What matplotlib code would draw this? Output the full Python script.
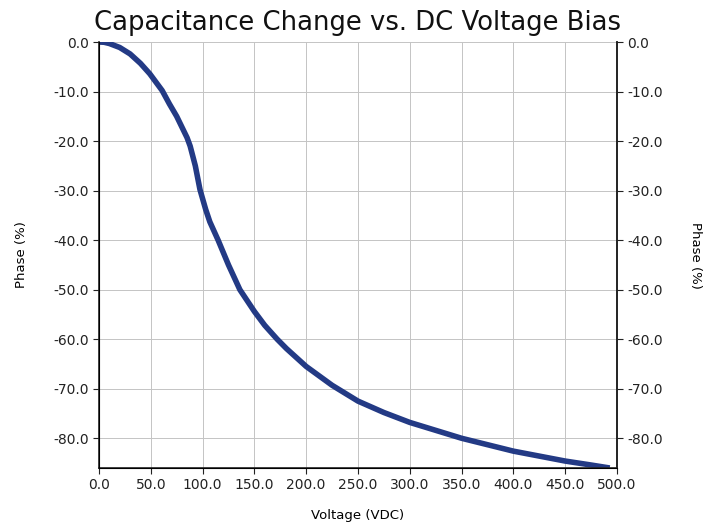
import matplotlib.pyplot as plt
import numpy as np

# capacitance change (%) against applied DC bias
voltage = [0, 5, 10, 20, 30, 40, 49, 61, 68, 75, 85, 88, 93, 97.5, 103,
           107, 115, 125, 136, 150, 160, 172, 181, 200, 225, 250, 275,
           300, 325, 350, 375, 400, 425, 450, 475, 493]
change = [0, -0.05, -0.3, -1.1, -2.4, -4.3, -6.4, -9.8, -12.5, -15.0, -19.3,
          -21.0, -25.0, -29.8, -33.8, -36.3, -40.0, -45.0, -50.0, -54.4,
          -57.2, -60.0, -61.9, -65.5, -69.3, -72.5, -74.8, -76.8, -78.4,
          -80.0, -81.3, -82.6, -83.6, -84.6, -85.4, -86.0]

x_ticks = np.arange(0, 501, 50)
y_ticks = np.arange(0, -81, -10)

fig = plt.figure(figsize=(7.24, 5.24), dpi=100)
ax = fig.add_axes([0.1367, 0.1069, 0.7155, 0.8129])

ax.plot(voltage, change, color="#233a85", lw=4, solid_capstyle="butt")

ax.set_xlim(0, 500)
ax.set_ylim(-86, 0)
ax.set_xticks(x_ticks)
ax.set_yticks(y_ticks)
ax.set_xticklabels(["%.1f" % v for v in x_ticks])
ax.set_yticklabels(["%.1f" % v for v in y_ticks])
ax.grid(True, color="#c4c4c4", lw=0.7)
ax.set_axisbelow(True)

ax.spines["top"].set_visible(False)
for s in ("left", "right", "bottom"):
    ax.spines[s].set_color("#222222")
    ax.spines[s].set_linewidth(1.2)
ax.tick_params(direction="out", length=4, labelsize=10, colors="#222222")

ax2 = ax.twinx()
ax2.set_ylim(-86, 0)
ax2.set_yticks(y_ticks)
ax2.set_yticklabels(["%.1f" % v for v in y_ticks])
ax2.spines["top"].set_visible(False)
ax2.spines["right"].set_color("#222222")
ax2.spines["right"].set_linewidth(1.2)
ax2.tick_params(direction="out", length=4, labelsize=10, colors="#222222")

ax.set_xlabel("Voltage (VDC)", fontsize=9.5, labelpad=12)
ax.set_ylabel("Phase (%)", fontsize=9.5, labelpad=18)
ax2.set_ylabel("Phase (%)", fontsize=9.5, rotation=270, labelpad=28)
ax.set_title("Capacitance Change vs. DC Voltage Bias", fontsize=18.6,
             pad=9, color="#111111")

fig.savefig("out.png", dpi=100)
